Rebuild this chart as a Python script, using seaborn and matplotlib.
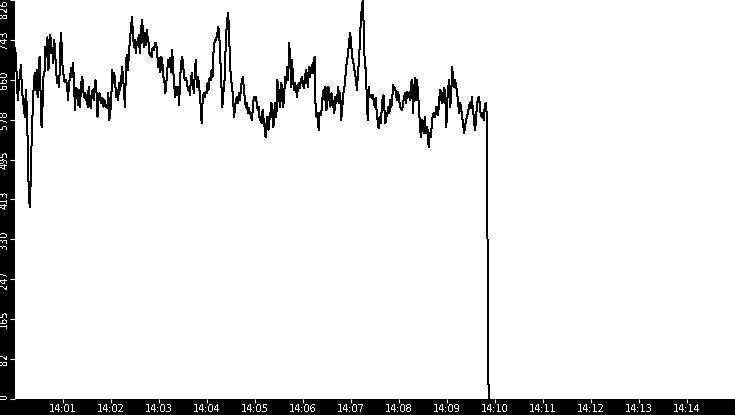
import numpy as np
import pandas as pd
import seaborn as sns
import matplotlib
matplotlib.use("Agg")
import matplotlib.pyplot as plt
import matplotlib.dates as mdates

plt.rcParams["text.antialiased"] = False

# readings, 14:00:00 -> 14:09:52 (evenly spaced), split in parts
part_a = [727, 708, 650, 619, 654, 667, 691, 644, 619, 605,
          584, 640, 605, 522, 426, 397, 453, 542, 598, 646,
          675, 640, 681, 625, 687, 708, 633, 563, 605, 667,
          677, 729, 708, 749, 681, 722, 754, 716, 727, 696,
          743, 712, 675, 654, 667, 646, 729, 758, 696, 677,
          660, 656, 660, 650, 619, 656, 665, 685, 667, 696,
          660, 598, 644, 640, 609, 640, 605, 635, 667, 660,
          625, 633, 619, 629, 605, 646, 625, 602, 633, 640,
          619, 644, 660, 633, 584, 619, 633, 625, 613, 623,
          605, 619, 609, 605, 602, 633, 578, 592, 625, 681,
          654, 675, 654, 625, 640, 619, 654, 640, 660, 687,
          667, 633, 605, 702, 712, 681, 718, 743, 770, 791]
part_b = [758, 729, 743, 716, 739, 733, 754, 716, 743, 785,
          770, 729, 758, 733, 764, 749, 737, 712, 716, 708,
          727, 722, 729, 737, 729, 708, 687, 706, 677, 708,
          696, 667, 660, 633, 654, 681, 702, 687, 706, 677,
          722, 681, 654, 625, 646, 629, 646, 609, 660, 696,
          708, 696, 667, 660, 665, 654, 640, 646, 629, 660,
          675, 654, 633, 675, 702, 646, 667, 656, 633, 605,
          571, 619, 633, 625, 635, 633, 654, 640, 665, 660,
          681, 667, 716, 737, 743, 747, 758, 770, 749, 702,
          660, 605, 633, 646, 708, 758, 785, 799, 749, 687,
          660, 646, 619, 584, 605, 619, 625, 613, 633, 619,
          646, 660, 667, 640, 619, 605, 613, 592, 602, 592,
          588, 578]
part_c = [598, 625, 619, 625, 613, 598, 605, 578, 584, 571,
          598, 578, 563, 542, 571, 584, 557, 578, 592, 613,
          584, 563, 598, 613, 584, 660, 646, 619, 605, 654,
          640, 605, 633, 667, 654, 687, 660, 737, 708, 646,
          702, 660, 640, 654, 644, 625, 646, 654, 644, 660,
          667, 654, 644, 660, 681, 667, 646, 687, 667, 675,
          691, 675, 702, 708, 592, 584, 592, 557, 592, 588,
          598, 625, 640, 619, 646, 598, 633, 646, 619, 605,
          633, 619, 605, 592, 625, 613, 625, 646, 613, 633,
          578, 598, 633, 640, 660, 687, 702, 716, 737, 758,
          743, 708, 702, 687, 675, 660, 640, 675, 696, 743,
          785, 812, 826, 764, 687, 685, 625, 578, 646, 625]
part_d = [629, 623, 629, 619, 605, 623, 598, 578, 561, 584,
          571, 592, 619, 629, 598, 571, 584, 592, 605, 592,
          619, 605, 625, 650, 640, 644, 625, 619, 635, 619,
          605, 602, 598, 613, 625, 633, 613, 635, 625, 633,
          619, 654, 660, 592, 633, 665, 619, 660, 640, 605,
          571, 542, 578, 563, 551, 584, 551, 563, 557, 522,
          551, 542, 563, 584, 592, 584, 592, 605, 588, 598,
          625, 640, 619, 613, 633, 644, 619, 563, 619, 646,
          660, 605, 633, 687, 654, 646, 660, 646, 633, 613,
          592, 613, 605, 584, 571, 551, 563, 578, 584, 592,
          605, 613, 602, 625, 598, 584, 557, 571, 605, 619,
          625, 613, 588, 584, 592, 578, 605, 613, 592]
part_end = [288, 0]

x_tick_labels = ["14:01", "14:02", "14:03", "14:04", "14:05", "14:06", "14:07",
                 "14:08", "14:09", "14:10", "14:11", "14:12", "14:13", "14:14"]

day = "2024-01-01 "
values = part_a + part_b + part_c + part_d + part_end
times = pd.date_range(day + "14:00:00", day + "14:09:52", periods=len(values))
df = pd.DataFrame({"time": times, "value": values})

fig = plt.figure(figsize=(7.35, 4.15), dpi=100, facecolor="black")
ax = fig.add_axes([15 / 735, 16 / 415, 720 / 735, 399 / 415])
ax.set_facecolor("white")

sns.lineplot(data=df, x="time", y="value", color="black", linewidth=0.72,
             antialiased=False, ax=ax)

ymax = max(values)
ax.set_ylim(0, ymax)
yt = np.linspace(0, ymax, 11)
ax.set_yticks(yt)
ax.set_yticklabels([str(int(v)) for v in yt], rotation=90, va="center")
labs = ax.get_yticklabels()
labs[0].set_va("bottom")
labs[-1].set_va("top")

ax.set_xlim(pd.Timestamp(day + "14:00:00"), pd.Timestamp(day + "14:15:00"))
ax.set_xticks([pd.Timestamp(day + t) for t in x_tick_labels])
ax.xaxis.set_major_formatter(mdates.DateFormatter("%H:%M"))

ax.tick_params(colors="white", labelcolor="white", labelsize=7, width=0.8,
               direction="out")
ax.tick_params(axis="y", length=3.5, pad=0.5)
ax.tick_params(axis="x", length=3, pad=0.8)
ax.set_xlabel("")
ax.set_ylabel("")
for s in ax.spines.values():
    s.set_visible(False)

fig.savefig("out.png", dpi=100, facecolor="black")
